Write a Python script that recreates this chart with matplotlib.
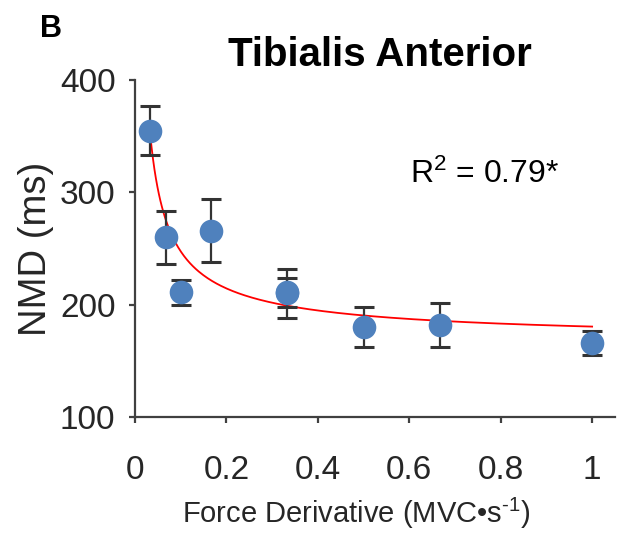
import numpy as np
import matplotlib
matplotlib.use("Agg")
import matplotlib.pyplot as plt

plt.rcParams['font.family'] = ['Liberation Sans', 'DejaVu Sans']
plt.rcParams['mathtext.fontset'] = 'custom'
plt.rcParams['mathtext.rm'] = 'Liberation Sans'
plt.rcParams['mathtext.it'] = 'Liberation Sans'

# force derivative (MVC/s) and NMD (ms)
force_deriv = [0.033, 0.067, 0.1, 0.167, 0.333, 0.333, 0.5, 0.667, 1.0]
nmd = [355, 260, 211, 266, 211, 210, 180, 182, 166]
nmd_err = [22, 23.5, 11, 28, 13, 21.5, 18, 19.5, 11]

# fitted curve y = a + b * x^c
fit_a, fit_b, fit_c = 166.0, 14.5, -0.75
r2_text = r"R$^{2}$ = 0.79*"

dark = '#404040'
fig = plt.figure(figsize=(6.19, 5.39), dpi=100)
ax = fig.add_axes([0.218, 0.2263, 0.7755, 0.6253])

xf = np.linspace(force_deriv[0], force_deriv[-1], 300)
ax.plot(xf, fit_a + fit_b * xf ** fit_c, color='red', lw=1.3, zorder=2)

ax.errorbar(force_deriv, nmd, yerr=nmd_err, fmt='none', ecolor='#333333',
            elinewidth=1.6, capsize=7.5, capthick=2.2, zorder=3)
ax.plot(force_deriv, nmd, 'o', color='#4F81BD', markersize=17, zorder=4,
        markeredgewidth=0)

ax.set_xlim(0, 1.05)
ax.set_ylim(100, 400)
ax.set_xticks([0, 0.2, 0.4, 0.6, 0.8, 1.0])
ax.set_xticklabels(['0', '0.2', '0.4', '0.6', '0.8', '1'])
ax.set_yticks([100, 200, 300, 400])

for s in ['top', 'right']:
    ax.spines[s].set_visible(False)
for s in ['left', 'bottom']:
    ax.spines[s].set_color(dark)
    ax.spines[s].set_linewidth(1.6)
ax.tick_params(axis='both', colors=dark, labelcolor='#262626', labelsize=24,
               width=1.6, length=4)
ax.tick_params(axis='x', pad=23)
ax.tick_params(axis='y', pad=10)

ax.set_ylabel('NMD (ms)', fontsize=27.5, color='#262626', labelpad=4)
ax.set_xlabel(r'Force Derivative (MVC•s$^{\text{-}1}$)', fontsize=21,
              color='#262626')
ax.xaxis.set_label_coords(0.46, -0.235)
ax.set_title('Tibialis Anterior', fontsize=29, fontweight='bold', pad=10,
             x=0.51)
ax.text(0.602, 308, r2_text, fontsize=23, color='black')
fig.text(0.064, 0.931, 'B', fontsize=22, fontweight='bold')

fig.savefig('out.png', dpi=100)
